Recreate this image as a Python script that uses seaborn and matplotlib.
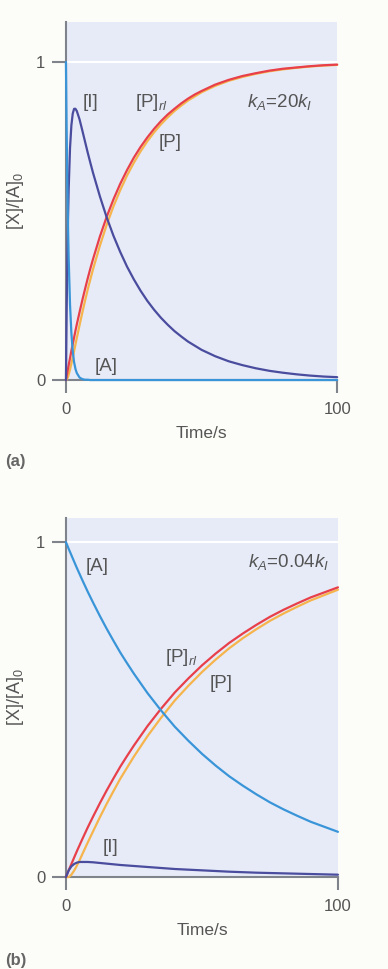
import matplotlib
matplotlib.use("Agg")
import matplotlib.pyplot as plt
import seaborn as sns
import pandas as pd

# panel (a): kA = 20 kI
t_a = [0, 0.25, 0.5, 0.75, 1, 1.5, 2, 2.5, 3, 3.5, 4, 5, 6, 7, 8, 9,
       10, 12.5, 15, 17.5, 20, 22.5, 25, 27.5, 30, 32.5, 35, 37.5, 40, 42.5, 45, 47.5, 50,
       55, 60, 65, 70, 75, 80, 85, 90, 95, 100]
A_a = [1.0, 0.787, 0.619, 0.487, 0.383, 0.237, 0.147, 0.091, 0.056, 0.035, 0.022, 0.008,
       0.003, 0.001, 0.001, 0.0] + [0.0] * 27
I_a = [0, 0.212, 0.376, 0.503, 0.600, 0.730, 0.801, 0.838, 0.853, 0.853, 0.846, 0.820,
       0.786, 0.751, 0.716, 0.683,
       0.651, 0.578, 0.512, 0.454, 0.403, 0.357, 0.317, 0.281, 0.249, 0.221, 0.196, 0.174,
       0.154, 0.137, 0.121, 0.108, 0.095,
       0.075, 0.059, 0.047, 0.037, 0.029, 0.023, 0.018, 0.014, 0.011, 0.009]
P_a = [0, 0.001, 0.005, 0.010, 0.017, 0.033, 0.052, 0.071, 0.091, 0.112, 0.132, 0.172,
       0.211, 0.248, 0.284, 0.317,
       0.349, 0.422, 0.488, 0.546, 0.597, 0.643, 0.683, 0.719, 0.751, 0.779, 0.804, 0.826,
       0.846, 0.863, 0.879, 0.892, 0.905,
       0.925, 0.941, 0.953, 0.963, 0.971, 0.977, 0.982, 0.986, 0.989, 0.991]
Prl_a = [0, 0.012, 0.024, 0.035, 0.047, 0.069, 0.092, 0.113, 0.134, 0.155, 0.175, 0.213,
         0.250, 0.285, 0.319, 0.351,
         0.381, 0.451, 0.513, 0.568, 0.617, 0.660, 0.699, 0.733, 0.763, 0.790, 0.814, 0.835,
         0.853, 0.870, 0.885, 0.898, 0.909,
         0.929, 0.944, 0.956, 0.965, 0.973, 0.979, 0.983, 0.987, 0.990, 0.992]

# panel (b): kA = 0.04 kI
t_b = [0, 1, 2, 3, 4, 5, 6, 8, 10, 12.5, 15, 17.5, 20, 22.5, 25, 30, 35, 40, 45, 50,
       55, 60, 65, 70, 75, 80, 85, 90, 95, 100]
A_b = [1.0, 0.980, 0.961, 0.942, 0.923, 0.905, 0.887, 0.852, 0.819, 0.779, 0.741, 0.705,
       0.670, 0.638, 0.607, 0.549, 0.497, 0.449, 0.407, 0.368, 0.333, 0.301, 0.273, 0.247,
       0.223, 0.202, 0.183, 0.165, 0.150, 0.135]
I_b = [0, 0.020, 0.032, 0.039, 0.043, 0.045, 0.045, 0.045, 0.044, 0.042, 0.040, 0.038,
       0.036, 0.0345, 0.033, 0.030, 0.027, 0.024, 0.022, 0.020, 0.018, 0.016, 0.0145, 0.013,
       0.012, 0.011, 0.010, 0.009, 0.008, 0.007]
P_b = [0, 0.000, 0.007, 0.019, 0.034, 0.050, 0.068, 0.103, 0.137, 0.179, 0.219, 0.257,
       0.294, 0.327, 0.360, 0.421, 0.476, 0.527, 0.571, 0.612, 0.649, 0.683, 0.713, 0.740,
       0.765, 0.787, 0.807, 0.826, 0.842, 0.858]
Prl_b = [0, 0.020, 0.039, 0.058, 0.077, 0.095, 0.113, 0.148, 0.181, 0.221, 0.259, 0.295,
         0.330, 0.362, 0.393, 0.451, 0.503, 0.551, 0.593, 0.632, 0.667, 0.699, 0.727, 0.753,
         0.777, 0.798, 0.817, 0.835, 0.850, 0.865]

x_ticks = [0, 100]
y_ticks = [0, 1]

sns.set_style("ticks")
plt.rcParams['font.family'] = ['Liberation Sans', 'DejaVu Sans']
plt.rcParams['mathtext.fontset'] = 'custom'
plt.rcParams['mathtext.rm'] = 'Liberation Sans'
plt.rcParams['mathtext.it'] = 'Liberation Sans:italic'

c_A = '#3a95d8'
c_I = '#4a4c9e'
c_Prl = '#e8404a'
c_P = '#f6b44c'
bg = '#e7ebf8'
txt = '#555555'
spine = '#7f848c'

fig = plt.figure(figsize=(3.88, 9.69), dpi=100, facecolor='#fcfcf8')
ax_a = fig.add_axes([0.170, 0.6078, 0.699, 0.3695])
ax_b = fig.add_axes([0.170, 0.0949, 0.701, 0.3705])


def draw_panel(ax, t, A, I, P, Prl, ytop):
    ax.set_facecolor(bg)
    ax.axhline(1, color='white', lw=1.5, zorder=1)
    df = pd.DataFrame({'t': t, 'A': A, 'I': I, 'P': P, 'Prl': Prl})
    for col, c in [('P', c_P), ('Prl', c_Prl), ('I', c_I), ('A', c_A)]:
        sns.lineplot(data=df, x='t', y=col, color=c, lw=1.6, ax=ax, clip_on=False, zorder=3)
    ax.set_xlim(0, 100)
    ax.set_ylim(0, ytop)
    ax.set_xticks(x_ticks)
    ax.set_yticks(y_ticks)
    sns.despine(ax=ax)
    for s in ['left', 'bottom']:
        ax.spines[s].set_color(spine)
        ax.spines[s].set_linewidth(1.5)
    ax.tick_params(axis='x', direction='out', length=9.5, width=1.5, color=spine,
                   labelsize=12, labelcolor=txt, pad=6)
    ax.tick_params(axis='y', direction='out', length=10, width=1.5, color=spine,
                   labelsize=12, labelcolor=txt, pad=5)
    ax.set_xlabel('Time/s', fontsize=12.5, color=txt, labelpad=7)
    ax.set_ylabel('[X]/[A]$_0$', fontsize=13, color=txt, labelpad=7)


draw_panel(ax_a, t_a, A_a, I_a, P_a, Prl_a, 1.126)
draw_panel(ax_b, t_b, A_b, I_b, P_b, Prl_b, 1.072)

kw = dict(fontsize=13.5, color=txt, va='center')
ax_a.text(8.9, 0.874, '[I]', ha='center', **kw)
ax_a.text(25.5, 0.874, '[P]$_{rl}$', ha='left', **kw)
ax_a.text(38.4, 0.748, '[P]', ha='center', **kw)
ax_a.text(78.8, 0.874, '$k_A$=20$k_I$', ha='center', **kw)
ax_a.text(14.8, 0.044, '[A]', ha='center', **kw)

ax_b.text(11.6, 0.928, '[A]', ha='center', **kw)
ax_b.text(81.8, 0.940, '$k_A$=0.04$k_I$', ha='center', **kw)
ax_b.text(36.4, 0.657, '[P]$_{rl}$', ha='left', **kw)
ax_b.text(57.0, 0.579, '[P]', ha='center', **kw)
ax_b.text(16.5, 0.087, '[I]', ha='center', **kw)

fig.text(0.013, 1 - 462 / 969, '(a)', fontsize=12, fontweight='bold', color='#666666', va='center')
fig.text(0.013, 1 - 960 / 969, '(b)', fontsize=12, fontweight='bold', color='#666666', va='center')

fig.savefig('out.png', dpi=100, facecolor=fig.get_facecolor())
